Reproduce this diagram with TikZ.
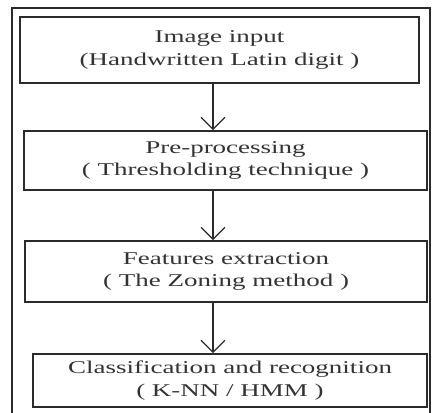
\documentclass[tikz,border=0pt]{standalone}
\usepackage{fontspec}
\usetikzlibrary{arrows.meta}
\newfontfamily\boxfont[FakeStretch=1.5]{Liberation Serif}
\definecolor{inkc}{HTML}{2B2B2B}
\definecolor{txtc}{HTML}{333333}
\tikzset{
  stage/.style={draw=inkc, line width=1.8pt, rectangle, inner sep=0pt, align=center,
    font=\boxfont\fontsize{18}{22.5}\selectfont, text=txtc},
  flowarrow/.style={draw=inkc, line width=1.4pt, -{Straight Barb[length=12pt,width=24pt,line width=1.2pt]}},
  frameline/.style={draw=inkc, line width=1.3pt}
}
\begin{document}
\begin{tikzpicture}[x=1pt,y=-1pt]
\useasboundingbox (0,0) rectangle (432,413);
\draw[frameline] (12,420) -- (12,8) -- (430,8) -- (430,420);
\node[stage, minimum width=399pt, minimum height=66pt] (b1) at (219.5,50) {Image input\\(Handwritten Latin digit )};
\node[stage, minimum width=403pt, minimum height=59pt] (b2) at (225.5,160.5) {Pre-processing\\( Thresholding technique )};
\node[stage, minimum width=402pt, minimum height=61pt] (b3) at (226,271.5) {Features extraction\\( The Zoning method )};
\node[stage, minimum width=394pt, minimum height=53pt] (b4) at (230,380.5) {Classification and recognition\\( K-NN / HMM )};
\coordinate (ax) at (213,0);
\draw[flowarrow] (b1.south -| ax) -- (b2.north -| ax);
\draw[flowarrow] (b2.south -| ax) -- (b3.north -| ax);
\draw[flowarrow] (b3.south -| ax) -- (b4.north -| ax);
\end{tikzpicture}
\end{document}
